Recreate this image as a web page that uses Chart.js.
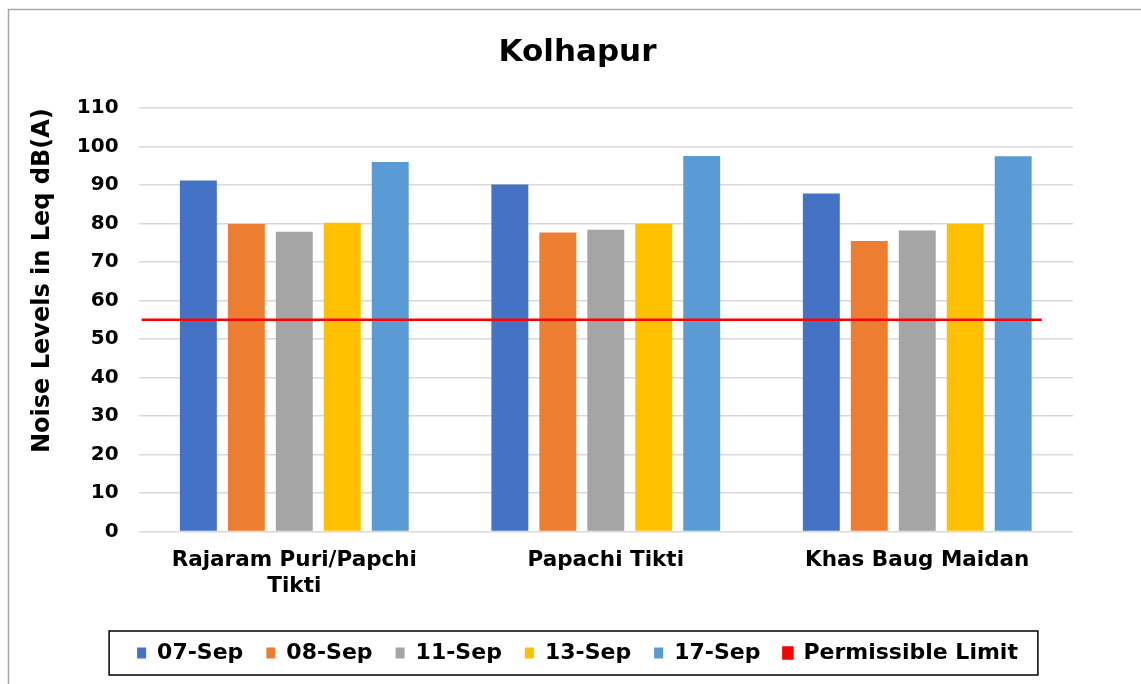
<!DOCTYPE html>
<html>
<head>
<meta charset="utf-8">
<script src="https://cdn.jsdelivr.net/npm/chart.js@4.4.0/dist/chart.umd.min.js"></script>
<style>
  html, body { margin: 0; padding: 0; background: #fff; overflow: hidden; }
  #wrap { width: 1141px; height: 684px; position: relative; }
</style>
</head>
<body>
<div id="wrap"><canvas id="barChart" width="1141" height="684"></canvas></div>
<script>
const categories = [["Rajaram Puri/Papchi", "Tikti"], "Papachi Tikti", "Khas Baug Maidan"];
const seriesNames = ["07-Sep", "08-Sep", "11-Sep", "13-Sep", "17-Sep"];
const sep07 = [91.2, 90.2, 87.8];
const sep08 = [79.9, 77.7, 75.5];
const sep11 = [77.9, 78.4, 78.2];
const sep13 = [80.2, 79.9, 79.9];
const sep17 = [96.0, 97.6, 97.5];
const limitValue = 55;
const limitSpan = [-0.49, 2.4]; // category index units, the Excel line runs past the bar groups
const yTicks = [0, 10, 20, 30, 40, 50, 60, 70, 80, 90, 100, 110];

const colors = ['#4472C4', '#ED7D31', '#A5A5A5', '#FFC000', '#5B9BD5'];
const FONT = "'DejaVu Sans', Verdana, sans-serif";

const barSets = [sep07, sep08, sep11, sep13, sep17].map((vals, i) => ({
    label: seriesNames[i],
    data: vals,
    backgroundColor: colors[i],
    order: 1,
}));

// frame + legend box
const framePlugin = {
    id: 'frame',
    beforeDraw(chart) {
        const ctx = chart.ctx;
        ctx.save();
        ctx.fillStyle = '#fff';
        ctx.fillRect(0, 0, chart.width, chart.height);
        ctx.strokeStyle = '#a6a6a6';
        ctx.lineWidth = 1.5;
        ctx.strokeRect(8.5, 9.5, 1300, 800);
        ctx.restore();
    },
    afterDraw(chart) {
        const lg = chart.legend;
        if (!lg || !lg.legendHitBoxes.length) return;
        const boxes = lg.legendHitBoxes;
        const left = Math.min(...boxes.map(b => b.left)) - 28;
        const right = Math.max(...boxes.map(b => b.left + b.width)) + 20;
        const top = boxes[0].top - 11;
        const bottom = boxes[0].top + boxes[0].height + 11;
        const ctx = chart.ctx;
        ctx.save();
        ctx.strokeStyle = '#000';
        ctx.lineWidth = 1.5;
        ctx.strokeRect(left, top, right - left, bottom - top);
        ctx.restore();
    }
};

const ctx = document.getElementById('barChart').getContext('2d');
const barChart = new Chart(ctx, {
    type: 'bar',
    data: {
        labels: categories,
        datasets: [
            ...barSets,
            {
                type: 'line',
                label: 'Permissible Limit',
                parsing: false,
                data: limitSpan.map(x => ({ x: x, y: limitValue })),
                borderColor: '#FF0000',
                backgroundColor: '#FF0000',
                borderWidth: 2.5,
                pointRadius: 0,
                fill: false,
                order: 0,
            },
        ],
    },
    options: {
        responsive: false,
        animation: false,
        categoryPercentage: 0.77,
        barPercentage: 0.77,
        layout: { padding: { left: 28, right: 14, top: 34, bottom: 10 } },
        plugins: {
            title: {
                display: true,
                text: 'Kolhapur',
                color: '#000',
                font: { family: FONT, size: 31, weight: 'bold' },
                padding: { top: 0, bottom: 37 },
            },
            legend: {
                position: 'bottom',
                labels: {
                    sort: (a, b) => a.datasetIndex - b.datasetIndex,
                    color: '#000',
                    font: { family: FONT, size: 22, weight: 'bold' },
                    boxWidth: 9,
                    boxHeight: 11,
                    padding: 23,
                },
            },
            tooltip: { enabled: false },
        },
        scales: {
            x: {
                grid: { display: false },
                border: { display: false },
                ticks: {
                    color: '#000',
                    font: { family: FONT, size: 21.5, weight: 'bold' },
                    maxRotation: 0,
                    padding: 8,
                },
                afterFit: s => { s.height += 12; },
            },
            y: {
                min: 0,
                max: 110,
                afterBuildTicks: axis => { axis.ticks = yTicks.map(v => ({ value: v })); },
                grid: { color: '#d9d9d9', lineWidth: 1.5, drawTicks: false },
                border: { display: false },
                ticks: {
                    color: '#000',
                    font: { family: FONT, size: 20, weight: 'bold' },
                    padding: 20,
                },
                title: {
                    display: true,
                    text: 'Noise Levels in Leq dB(A)',
                    align: 'end',
                    color: '#000',
                    font: { family: FONT, size: 24, weight: 'bold' },
                    padding: { top: 0, bottom: 0 },
                },
            },
            yRight: {
                position: 'right',
                min: 0,
                max: 110,
                grid: { display: false },
                border: { display: false },
                ticks: { display: false },
                afterFit: s => { s.width = 54; },
            },
        },
    },
    plugins: [framePlugin],
});
</script>
</body>
</html>
